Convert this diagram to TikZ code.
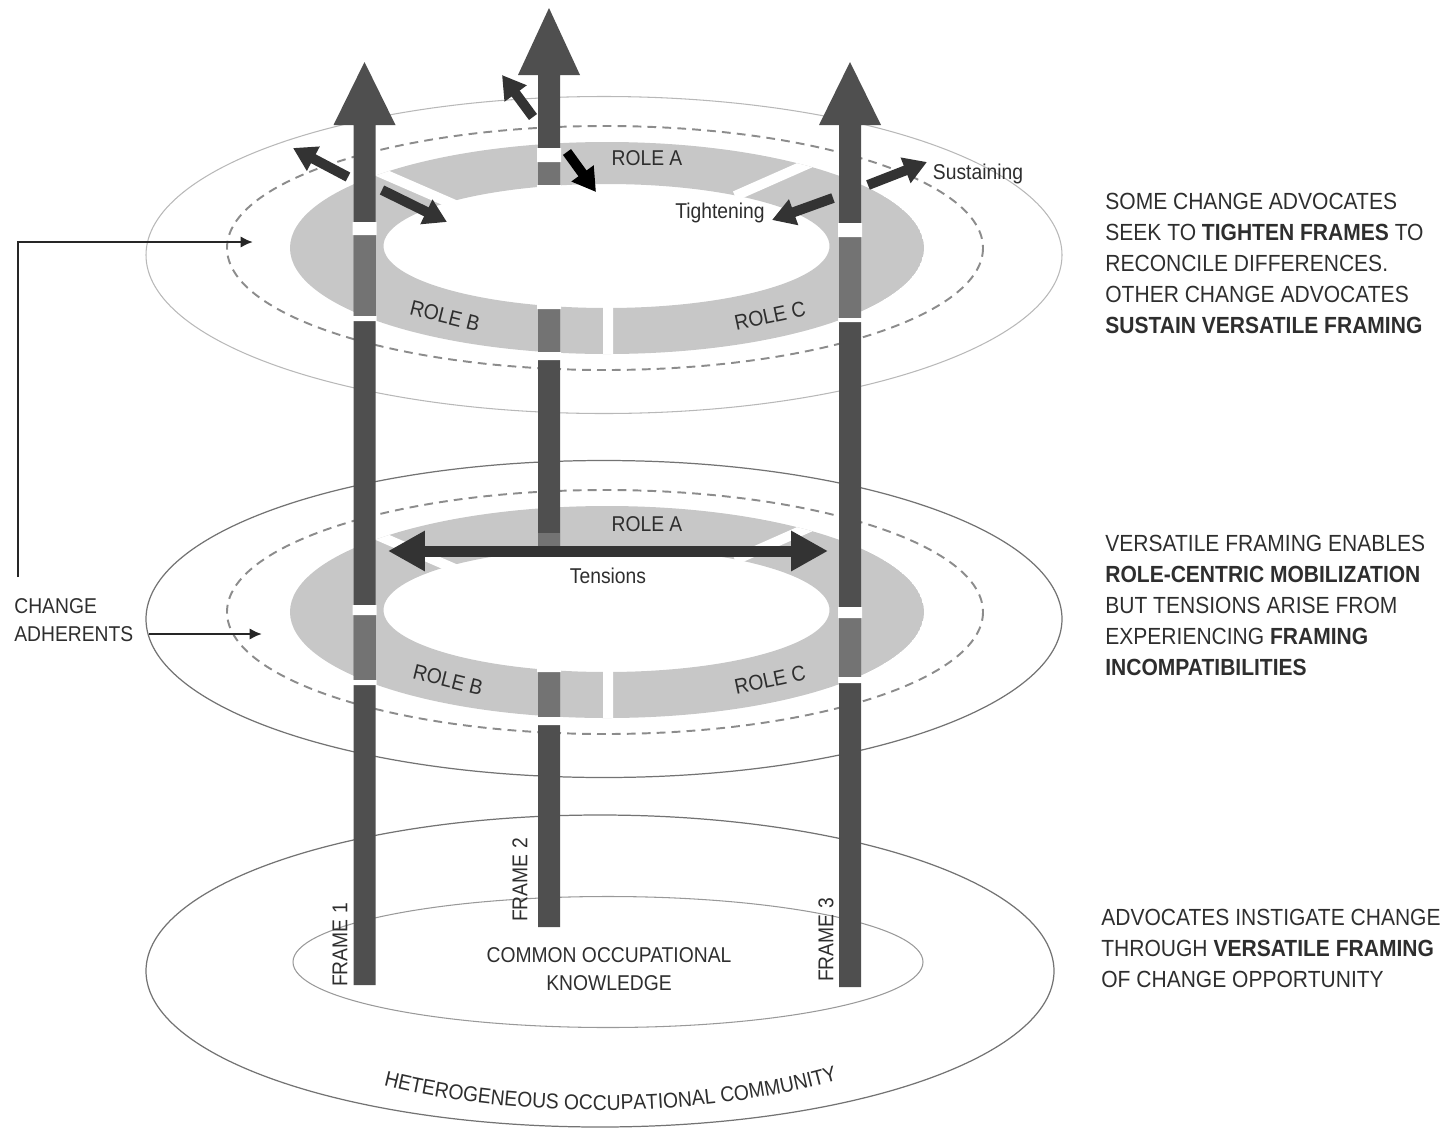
\documentclass[tikz,border=0pt]{standalone}
\usepackage{fontspec}
\setmainfont{Liberation Sans}[FakeStretch=0.9]
\usetikzlibrary{arrows.meta,decorations.text}
\definecolor{ringgray}{gray}{0.78}
\definecolor{bardark}{gray}{0.31}
\definecolor{barlight}{gray}{0.45}
\definecolor{arrowdark}{gray}{0.2}
\definecolor{dashgray}{gray}{0.55}
\definecolor{textgray}{gray}{0.18}

\begin{document}
\begin{tikzpicture}[x=0.02cm,y=-0.02cm,
	lbl/.style={font=\fontsize{12.2}{16}\selectfont,text=textgray,inner sep=0pt},
	blk/.style={font=\fontsize{13.3}{17.6}\selectfont,text=textgray,align=left,anchor=north west,inner sep=0pt},
	outerlight/.style={draw=black!28,line width=0.6pt},
	outerdark/.style={draw=black!55,line width=0.7pt},
	dashring/.style={draw=dashgray,line width=1.1pt,dash pattern=on 5pt off 3.5pt},
	ringcut/.style={white,line width=0.2cm},
	dirarrow/.style={arrowdark,line width=0.2cm,-{Triangle[width=0.52cm,length=0.46cm]}},
	pointer/.style={black!85,line width=1.4pt,-{Latex[length=7pt,width=6.5pt]}}]
	\useasboundingbox (0,0) rectangle (1451,1130);

	\draw[outerlight] (604,255) ellipse [x radius=458,y radius=158.5];
	\draw[dashring] (605,248) ellipse [x radius=378,y radius=122];
	\begin{scope}
		\clip (607,248) ellipse [x radius=317,y radius=106];
		\fill[ringgray,even odd rule] (607,248) ellipse [x radius=317,y radius=106] (606.5,246) ellipse [x radius=223,y radius=62];
		\draw[ringcut] (370,168) -- (462,208) (830,154) -- (735,196) (608,280) -- (608,370);
	\end{scope}

	\begin{scope}[shift={(0,364)}]
		\draw[outerdark] (604,255) ellipse [x radius=458,y radius=158.5];
		\draw[dashring] (605,248) ellipse [x radius=378,y radius=122];
		\begin{scope}
			\clip (607,248) ellipse [x radius=317,y radius=106];
			\fill[ringgray,even odd rule] (607,248) ellipse [x radius=317,y radius=106] (606.5,246) ellipse [x radius=223,y radius=62];
			\draw[ringcut] (370,168) -- (462,208) (830,154) -- (735,196) (608,280) -- (608,370);
		\end{scope}
	\end{scope}

	\draw[outerdark] (600,971) ellipse [x radius=454,y radius=156];
	\draw[outerlight,draw=black!40] (608,962) ellipse [x radius=315,y radius=65.5];

	\fill[bardark] (353.5,985) -- (353.5,125) -- (333.5,125) -- (364.5,62) -- (395.5,125) -- (375.5,125) -- (375.5,985) -- cycle;
	\fill[bardark] (538,927) -- (538,75) -- (518,75) -- (549,8) -- (580,75) -- (560,75) -- (560,927) -- cycle;
	\fill[bardark] (839,987) -- (839,125) -- (819,125) -- (850,62) -- (881,125) -- (861,125) -- (861,987) -- cycle;

	\fill[barlight] (353.5,235) rectangle (375.5,316);
	\fill[white] (352.5,222) rectangle (376.5,235) (352.5,316) rectangle (376.5,321);
	\fill[barlight] (353.5,615) rectangle (375.5,680);
	\fill[white] (352.5,605) rectangle (376.5,615) (352.5,680) rectangle (376.5,685);

	\fill[barlight] (538,162) rectangle (560,352);
	\fill[white] (537,148) rectangle (561,162) (537,185) rectangle (561,309) (537,352) rectangle (561,360);
	\fill[barlight] (538,533) rectangle (560,717);
	\fill[white] (537,551) rectangle (561,672) (537,717) rectangle (561,725);

	\fill[barlight] (839,237) rectangle (861,318);
	\fill[white] (838,223) rectangle (862,237) (838,318) rectangle (862,322);
	\fill[barlight] (839,618) rectangle (861,677);
	\fill[white] (838,607) rectangle (862,618) (838,677) rectangle (862,683);

	\draw[dirarrow] (348,177) -- (293,148);
	\draw[dirarrow] (382,190) -- (447,222);
	\draw[dirarrow] (533,117) -- (502,75);
	\draw[dirarrow,black] (567,152) -- (596,192);
	\draw[dirarrow] (833,198) -- (772,220);
	\draw[dirarrow] (868,185) -- (927,162);
	\draw[arrowdark,line width=0.22cm,{Triangle[width=0.76cm,length=0.74cm]}-{Triangle[width=0.76cm,length=0.74cm]}] (388,551) -- (828,551);

	\node[lbl] (roleAtop) at (647,158) {ROLE A};
	\node[lbl,rotate=-14] (roleBtop) at (445,316) {ROLE B};
	\node[lbl,rotate=12] (roleCtop) at (770,316) {ROLE C};
	\node[lbl] (tight) at (720,213) {Tightening};
	\node[lbl] (sustain) at (978,174) {Sustaining};

	\node[lbl] (roleAmid) at (647,524) {ROLE A};
	\node[lbl,rotate=-14] (roleBmid) at (448,680) {ROLE B};
	\node[lbl,rotate=12] (roleCmid) at (770,680) {ROLE C};
	\node[lbl] (tensions) at (608,576) {Tensions};

	\node[lbl,rotate=90] (frame1) at (340,945) {FRAME 1};
	\node[lbl,rotate=90] (frame2) at (520,880) {FRAME 2};
	\node[lbl,rotate=90] (frame3) at (826,940) {FRAME 3};
	\node[lbl,align=center] (common) at (609,969) {COMMON OCCUPATIONAL\\KNOWLEDGE};
	\path[decorate,decoration={text along path,text align=center,
		text={|\fontsize{12.2}{16}\selectfont\color{textgray}|HETEROGENEOUS OCCUPATIONAL COMMUNITY}}]
		(382,1085) arc [start angle=125,end angle=51,x radius=380,y radius=139];

	\node[lbl,anchor=west] (adh1) at (14,606) {CHANGE};
	\node[lbl,anchor=west] (adh2) at (14,634) {ADHERENTS};
	\coordinate (elbow) at (18,577);
	\coordinate (toplayer) at (253,242);
	\coordinate (midlayer) at (262,634);
	\draw[pointer] (elbow) |- (toplayer);
	\draw[pointer,shorten <=9pt] (adh2.east) -- (midlayer);

	\node[blk] (notetop) at (1105,193) {SOME CHANGE ADVOCATES\\SEEK TO \textbf{TIGHTEN FRAMES} TO\\RECONCILE DIFFERENCES.\\OTHER CHANGE ADVOCATES\\\textbf{SUSTAIN VERSATILE FRAMING}};
	\node[blk] (notemid) at (1105,535) {VERSATILE FRAMING ENABLES\\\textbf{ROLE-CENTRIC MOBILIZATION}\\BUT TENSIONS ARISE FROM\\EXPERIENCING \textbf{FRAMING}\\\textbf{INCOMPATIBILITIES}};
	\node[blk] (notebot) at (1101,909) {ADVOCATES INSTIGATE CHANGE\\THROUGH \textbf{VERSATILE FRAMING}\\OF CHANGE OPPORTUNITY};
\end{tikzpicture}
\end{document}
